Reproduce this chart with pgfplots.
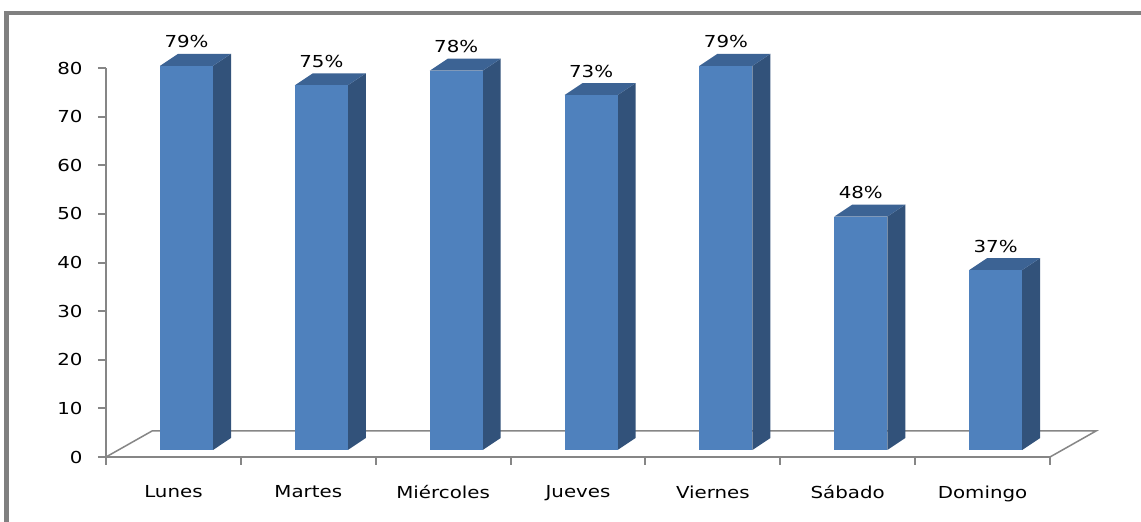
\documentclass[border=0pt]{standalone}
\usepackage{pgfplots}
\pgfplotsset{compat=1.18}
\usepackage{pgfplotstable}
\usepackage{fontspec}
\setmainfont{DejaVu Sans}[FakeStretch=1.2]

\definecolor{barfront}{HTML}{4F81BD}
\definecolor{barside}{HTML}{32527A}
\definecolor{bartop}{HTML}{3C6394}
\definecolor{axisgray}{HTML}{868686}
\definecolor{framegray}{HTML}{808080}

\newcommand\fs{\fontsize{16.5}{19}\selectfont}

% porcentaje por dia
\pgfplotstableread{
x v
0 79
1 75
2 78
3 73
4 79
5 48
6 37
}\dias

% esquinas de una cara (unidad)
\pgfplotstableread{
a b
0 0
1 0
1 1
0 1
}\esquina

% geometria de las barras 3D (unidades del eje)
\def\bl{-0.0995}  % borde izquierdo respecto al centro
\def\bw{0.393}    % ancho de la cara frontal
\def\dx{0.1335}   % profundidad en x
\def\dy{2.47}     % profundidad en y
\def\yb{1.44}     % base de la barra

\begin{document}
\begin{tikzpicture}
\fill[white] (0,0) rectangle (1141pt,522pt);
\useasboundingbox (0,0) rectangle (1141pt,522pt);
\draw[framegray, line width=4.5pt] (6.5pt,-5pt) -- (6.5pt,509pt) -- (1146pt,509pt);
\begin{axis}[
    at={(106pt,65pt)}, anchor=south west,
    scale only axis, width=944pt, height=389pt,
    xmin=-0.5, xmax=6.5, ymin=0, ymax=80,
    axis x line=bottom, axis y line=left,
    axis line style={-, draw=axisgray, line width=2pt},
    xtick={-0.5,0.5,...,6.5},
    xticklabels={},
    extra x ticks={0,...,6},
    extra x tick labels={Lunes,Martes,Miércoles,Jueves,Viernes,Sábado,Domingo},
    extra x tick style={major tick length=0pt, tick label style={yshift=-25pt}},
    ytick={0,10,...,80},
    tick align=outside,
    major tick length=8pt,
    tick style={draw=axisgray, line width=2pt},
    tick label style={font=\fs},
    yticklabel style={xshift=-12pt},
    /pgf/number format/assume math mode=true,
    clip=false,
]
% suelo
\addplot[axisgray, line width=1.5pt] coordinates {(-0.5,0) (-0.1589,5.347) (6.8411,5.347) (6.5,0)};

\pgfplotsinvokeforeach{0,...,6}{
  \pgfplotstablegetelem{#1}{v}\of\dias
  \let\val\pgfplotsretval
  % lateral
  \addplot[draw=none, fill=barside] table[x expr=#1+\bl+\bw+\thisrow{a}*\dx,
      y expr=\yb+\thisrow{a}*\dy+\thisrow{b}*\val] {\esquina};
  % tapa
  \addplot[draw=none, fill=bartop] table[x expr=#1+\bl+\thisrow{a}*\bw+\thisrow{b}*\dx,
      y expr=\yb+\val+\thisrow{b}*\dy] {\esquina};
  % frente
  \addplot[draw=none, fill=barfront] table[x expr=#1+\bl+\thisrow{a}*\bw,
      y expr=\yb+\thisrow{b}*\val] {\esquina};
}

% etiquetas
\addplot[draw=none, point meta=explicit,
    nodes near coords={\pgfmathprintnumber{\pgfplotspointmeta}\%},
    nodes near coords style={font=\fs, anchor=base, inner sep=0pt, yshift=18pt}]
    table[x expr=\thisrow{x}+\bl+0.5*\bw, y expr=\thisrow{v}+\yb, meta=v] {\dias};
\end{axis}
\end{tikzpicture}
\end{document}
